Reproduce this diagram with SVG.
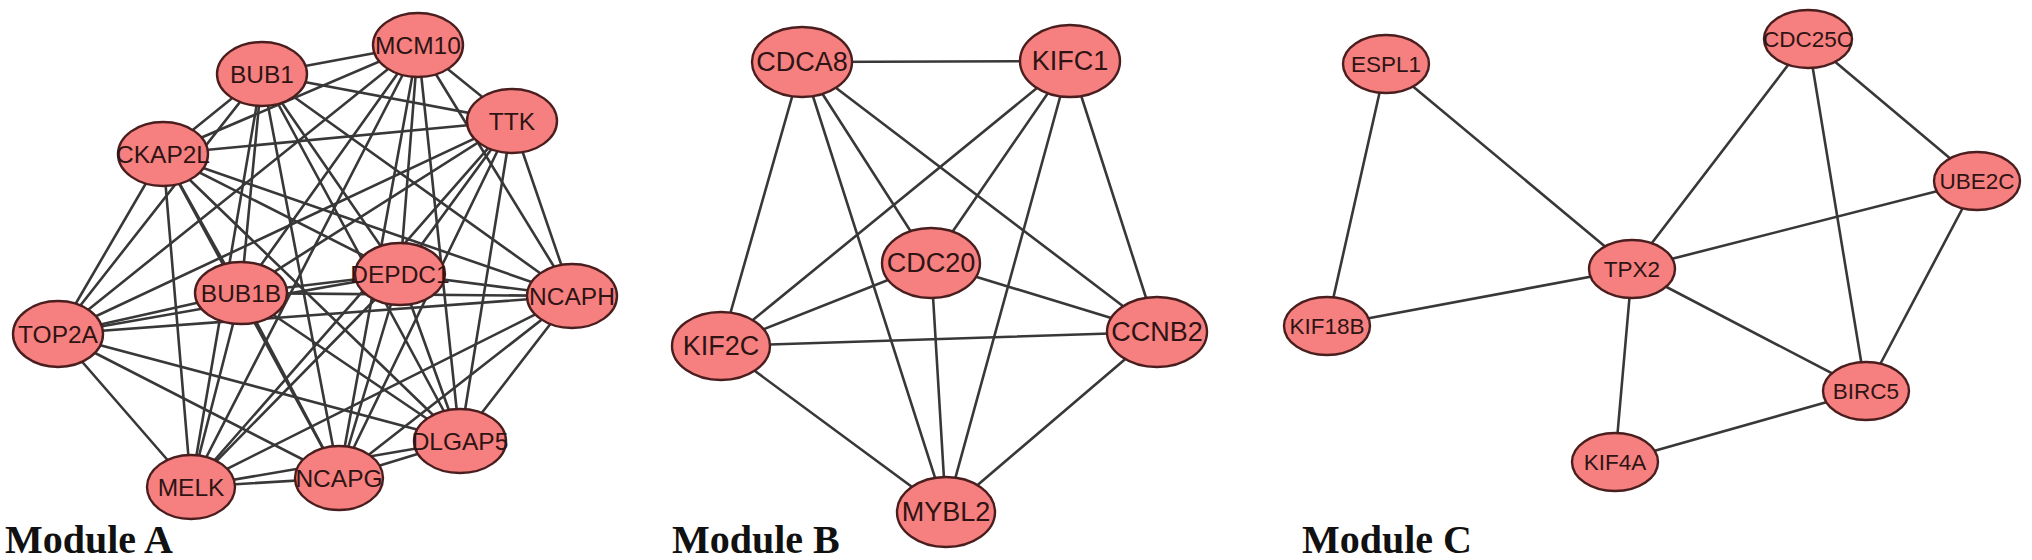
<svg xmlns="http://www.w3.org/2000/svg" width="2032" height="560" viewBox="0 0 2032 560">
<style>
.e line{stroke:#383838;stroke-width:2.6;stroke-linecap:round}
.n ellipse{fill:#F6807F;stroke:#4a1e1e;stroke-width:2.4}
.n text{font-family:"Liberation Sans",Arial,sans-serif;fill:#2e1414;text-anchor:middle;dominant-baseline:central}
.a text{font-size:24.5px}
.b text{font-size:27px}
.c text{font-size:22.5px}
.lbl{font-family:"Liberation Serif","Times New Roman",serif;font-weight:bold;font-size:40px;fill:#111}
</style>
<rect width="2032" height="560" fill="#fff"/>
<g id="connectors" class="e">
<!-- Module A -->
<line x1="262" y1="74" x2="418" y2="45"/>
<line x1="262" y1="74" x2="163" y2="154"/>
<line x1="262" y1="74" x2="512" y2="121"/>
<line x1="262" y1="74" x2="400" y2="274"/>
<line x1="262" y1="74" x2="241" y2="293"/>
<line x1="262" y1="74" x2="572" y2="296"/>
<line x1="262" y1="74" x2="58" y2="334"/>
<line x1="262" y1="74" x2="191" y2="487"/>
<line x1="262" y1="74" x2="339" y2="478"/>
<line x1="262" y1="74" x2="460" y2="441"/>
<line x1="418" y1="45" x2="163" y2="154"/>
<line x1="418" y1="45" x2="512" y2="121"/>
<line x1="418" y1="45" x2="400" y2="274"/>
<line x1="418" y1="45" x2="241" y2="293"/>
<line x1="418" y1="45" x2="572" y2="296"/>
<line x1="418" y1="45" x2="58" y2="334"/>
<line x1="418" y1="45" x2="191" y2="487"/>
<line x1="418" y1="45" x2="339" y2="478"/>
<line x1="418" y1="45" x2="460" y2="441"/>
<line x1="163" y1="154" x2="512" y2="121"/>
<line x1="163" y1="154" x2="400" y2="274"/>
<line x1="163" y1="154" x2="241" y2="293"/>
<line x1="163" y1="154" x2="572" y2="296"/>
<line x1="163" y1="154" x2="58" y2="334"/>
<line x1="163" y1="154" x2="191" y2="487"/>
<line x1="163" y1="154" x2="339" y2="478"/>
<line x1="163" y1="154" x2="460" y2="441"/>
<line x1="512" y1="121" x2="400" y2="274"/>
<line x1="512" y1="121" x2="241" y2="293"/>
<line x1="512" y1="121" x2="572" y2="296"/>
<line x1="512" y1="121" x2="58" y2="334"/>
<line x1="512" y1="121" x2="191" y2="487"/>
<line x1="512" y1="121" x2="339" y2="478"/>
<line x1="512" y1="121" x2="460" y2="441"/>
<line x1="400" y1="274" x2="241" y2="293"/>
<line x1="400" y1="274" x2="572" y2="296"/>
<line x1="400" y1="274" x2="58" y2="334"/>
<line x1="400" y1="274" x2="191" y2="487"/>
<line x1="400" y1="274" x2="339" y2="478"/>
<line x1="400" y1="274" x2="460" y2="441"/>
<line x1="241" y1="293" x2="572" y2="296"/>
<line x1="241" y1="293" x2="58" y2="334"/>
<line x1="241" y1="293" x2="191" y2="487"/>
<line x1="241" y1="293" x2="339" y2="478"/>
<line x1="241" y1="293" x2="460" y2="441"/>
<line x1="572" y1="296" x2="58" y2="334"/>
<line x1="572" y1="296" x2="191" y2="487"/>
<line x1="572" y1="296" x2="339" y2="478"/>
<line x1="572" y1="296" x2="460" y2="441"/>
<line x1="58" y1="334" x2="191" y2="487"/>
<line x1="58" y1="334" x2="339" y2="478"/>
<line x1="58" y1="334" x2="460" y2="441"/>
<line x1="191" y1="487" x2="339" y2="478"/>
<line x1="191" y1="487" x2="460" y2="441"/>
<line x1="339" y1="478" x2="460" y2="441"/>
<!-- Module B -->
<line x1="802" y1="62" x2="1070" y2="61"/>
<line x1="802" y1="62" x2="721" y2="346"/>
<line x1="802" y1="62" x2="931" y2="263"/>
<line x1="802" y1="62" x2="946" y2="512"/>
<line x1="802" y1="62" x2="1157" y2="332"/>
<line x1="1070" y1="61" x2="721" y2="346"/>
<line x1="1070" y1="61" x2="931" y2="263"/>
<line x1="1070" y1="61" x2="946" y2="512"/>
<line x1="1070" y1="61" x2="1157" y2="332"/>
<line x1="931" y1="263" x2="721" y2="346"/>
<line x1="931" y1="263" x2="1157" y2="332"/>
<line x1="931" y1="263" x2="946" y2="512"/>
<line x1="721" y1="346" x2="1157" y2="332"/>
<line x1="721" y1="346" x2="946" y2="512"/>
<line x1="1157" y1="332" x2="946" y2="512"/>
<!-- Module C -->
<line x1="1386" y1="64" x2="1327" y2="326"/>
<line x1="1386" y1="64" x2="1632" y2="269"/>
<line x1="1327" y1="326" x2="1632" y2="269"/>
<line x1="1632" y1="269" x2="1808" y2="39"/>
<line x1="1632" y1="269" x2="1977" y2="181"/>
<line x1="1632" y1="269" x2="1866" y2="391"/>
<line x1="1632" y1="269" x2="1615" y2="462"/>
<line x1="1808" y1="39" x2="1977" y2="181"/>
<line x1="1808" y1="39" x2="1866" y2="391"/>
<line x1="1977" y1="181" x2="1866" y2="391"/>
<line x1="1615" y1="462" x2="1866" y2="391"/>
</g>
<g class="n a">
<g id="BUB1"><ellipse cx="262" cy="74" rx="45" ry="32"/><text x="262" y="74">BUB1</text></g>
<g id="MCM10"><ellipse cx="418" cy="45" rx="45" ry="32"/><text x="418" y="45">MCM10</text></g>
<g id="CKAP2L"><ellipse cx="163" cy="154" rx="45" ry="32"/><text x="163" y="154">CKAP2L</text></g>
<g id="TTK"><ellipse cx="512" cy="121" rx="45" ry="32"/><text x="512" y="121">TTK</text></g>
<g id="DEPDC1"><ellipse cx="400" cy="274" rx="45" ry="31"/><text x="400" y="274">DEPDC1</text></g>
<g id="BUB1B"><ellipse cx="241" cy="293" rx="46" ry="31"/><text x="241" y="293">BUB1B</text></g>
<g id="NCAPH"><ellipse cx="572" cy="296" rx="45" ry="32"/><text x="572" y="296">NCAPH</text></g>
<g id="TOP2A"><ellipse cx="58" cy="334" rx="45" ry="33"/><text x="58" y="334">TOP2A</text></g>
<g id="MELK"><ellipse cx="191" cy="487" rx="44" ry="32"/><text x="191" y="487">MELK</text></g>
<g id="NCAPG"><ellipse cx="339" cy="478" rx="44" ry="32"/><text x="339" y="478">NCAPG</text></g>
<g id="DLGAP5"><ellipse cx="460" cy="441" rx="46" ry="32"/><text x="460" y="441">DLGAP5</text></g>
</g>
<g class="n b">
<g id="CDCA8"><ellipse cx="802" cy="62" rx="50" ry="35"/><text x="802" y="62">CDCA8</text></g>
<g id="KIFC1"><ellipse cx="1070" cy="61" rx="50" ry="36"/><text x="1070" y="61">KIFC1</text></g>
<g id="CDC20"><ellipse cx="931" cy="263" rx="49" ry="35"/><text x="931" y="263">CDC20</text></g>
<g id="KIF2C"><ellipse cx="721" cy="346" rx="49" ry="34"/><text x="721" y="346">KIF2C</text></g>
<g id="CCNB2"><ellipse cx="1157" cy="332" rx="50" ry="35"/><text x="1157" y="332">CCNB2</text></g>
<g id="MYBL2"><ellipse cx="946" cy="512" rx="49" ry="35"/><text x="946" y="512">MYBL2</text></g>
</g>
<g class="n c">
<g id="ESPL1"><ellipse cx="1386" cy="64" rx="43" ry="29"/><text x="1386" y="64">ESPL1</text></g>
<g id="CDC25C"><ellipse cx="1808" cy="39" rx="44" ry="29"/><text x="1808" y="39">CDC25C</text></g>
<g id="UBE2C"><ellipse cx="1977" cy="181" rx="43" ry="29"/><text x="1977" y="181">UBE2C</text></g>
<g id="TPX2"><ellipse cx="1632" cy="269" rx="43" ry="29"/><text x="1632" y="269">TPX2</text></g>
<g id="KIF18B"><ellipse cx="1327" cy="326" rx="43" ry="29"/><text x="1327" y="326">KIF18B</text></g>
<g id="BIRC5"><ellipse cx="1866" cy="391" rx="43" ry="29"/><text x="1866" y="391">BIRC5</text></g>
<g id="KIF4A"><ellipse cx="1615" cy="462" rx="43" ry="29"/><text x="1615" y="462">KIF4A</text></g>
</g>
<g id="labels">
<text class="lbl" x="5" y="553">Module A</text>
<text class="lbl" x="672" y="553">Module B</text>
<text class="lbl" x="1302" y="553">Module C</text>
</g>
</svg>
